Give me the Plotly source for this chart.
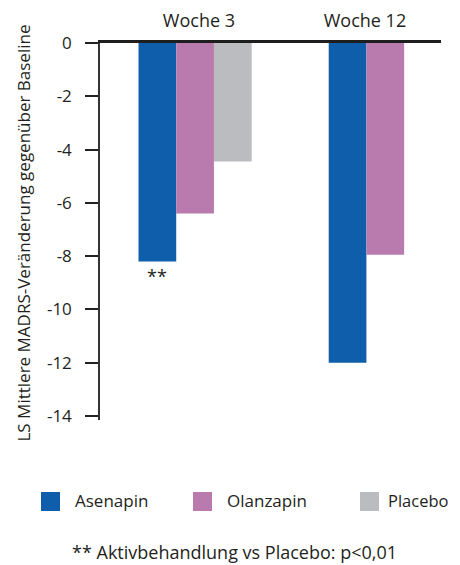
import plotly.graph_objects as go

categories = ["Woche 3", "Woche 12"]
series_names = ["Asenapin", "Olanzapin", "Placebo"]
asenapin = [-8.2, -12.0]
olanzapin = [-6.4, -7.95]
placebo = [-4.45, None]
y_ticks = [0, -2, -4, -6, -8, -10, -12, -14]
colors = ["#0E5EAB", "#B97AAE", "#BBBCBF"]
footnote = "** Aktivbehandlung vs Placebo: p<0,01"
sig_label = "**"
y_title = "LS Mittlere MADRS-Veränderung gegenüber Baseline"

FONT = "Open Sans"
TXT = "#231F20"

# plot area in window coordinates (page body has an 8px margin)
PL, PR, PT, PB = 100, 441, 43, 420


def px(x):
    return (x - PL) / (PR - PL)


def py(y):
    return (PB - y) / (PB - PT)


x_pos = [0, 1]
values = [asenapin, olanzapin, placebo]

fig = go.Figure()
for name, vals, col in zip(series_names, values, colors):
    fig.add_trace(go.Bar(x=x_pos, y=vals, name=name, marker=dict(color=col, line=dict(width=0)),
                         showlegend=False, hoverinfo="skip"))

bargap = 0.405
bw = (1 - bargap) / 3

W, H = 452, 557
fig.update_layout(
    width=W, height=H,
    margin=dict(l=PL - 8, r=W - (PR - 8), t=PT - 8, b=H - (PB - 8), pad=0, autoexpand=False),
    paper_bgcolor="white", plot_bgcolor="white",
    barmode="group", bargap=bargap, bargroupgap=0,
    font=dict(family=FONT, size=17, color=TXT),
    xaxis=dict(range=[-0.5, 1.293], side="top", tickvals=[0.02, 0.893], ticktext=categories,
               showline=True, linewidth=2.5, linecolor="#1E1E1E", ticks="", showgrid=False,
               zeroline=False, tickfont=dict(size=18, color=TXT), ticklabelstandoff=6,
               automargin=False),
    yaxis=dict(range=[-14.15, 0], tickvals=y_ticks, ticktext=[str(v) for v in y_ticks],
               showline=True, linewidth=1.5, linecolor="#333333", ticks="outside",
               ticklen=13, tickwidth=2, tickcolor="#222222", showgrid=False, zeroline=False,
               tickfont=dict(size=17, color=TXT), ticklabelstandoff=10, automargin=False),
)

# y-axis title
fig.add_annotation(text=y_title, xref="paper", yref="paper", x=px(23), y=py(233.5),
                   xanchor="center", yanchor="middle", textangle=-90, showarrow=False,
                   font=dict(size=17, color=TXT))

# significance marker under Asenapin Woche 3
fig.add_annotation(text=sig_label, x=x_pos[0] - bw, y=asenapin[0], yanchor="middle", yshift=-15,
                   showarrow=False, font=dict(size=18, color=TXT))

# manual legend
leg_x = [41, 193, 360]
for i, (name, col) in enumerate(zip(series_names, colors)):
    x0 = leg_x[i]
    fig.add_shape(type="rect", xref="paper", yref="paper",
                  x0=px(x0), x1=px(x0 + 19), y0=py(511), y1=py(492),
                  fillcolor=col, line=dict(width=0))
    if i == len(series_names) - 1:
        fig.add_annotation(text=name, xref="paper", yref="paper", x=px(451),
                           y=py(500.5), xanchor="right", yanchor="middle", showarrow=False,
                           font=dict(size=16.5, color=TXT))
    else:
        fig.add_annotation(text=name, xref="paper", yref="paper", x=px(x0 + 32),
                           y=py(500.5), xanchor="left", yanchor="middle", showarrow=False,
                           font=dict(size=17, color=TXT))

fig.add_annotation(text=footnote, xref="paper", yref="paper", x=px(234.5),
                   y=py(552), xanchor="center", yanchor="middle", showarrow=False,
                   font=dict(size=18, color=TXT))

fig.write_html("out.html")
